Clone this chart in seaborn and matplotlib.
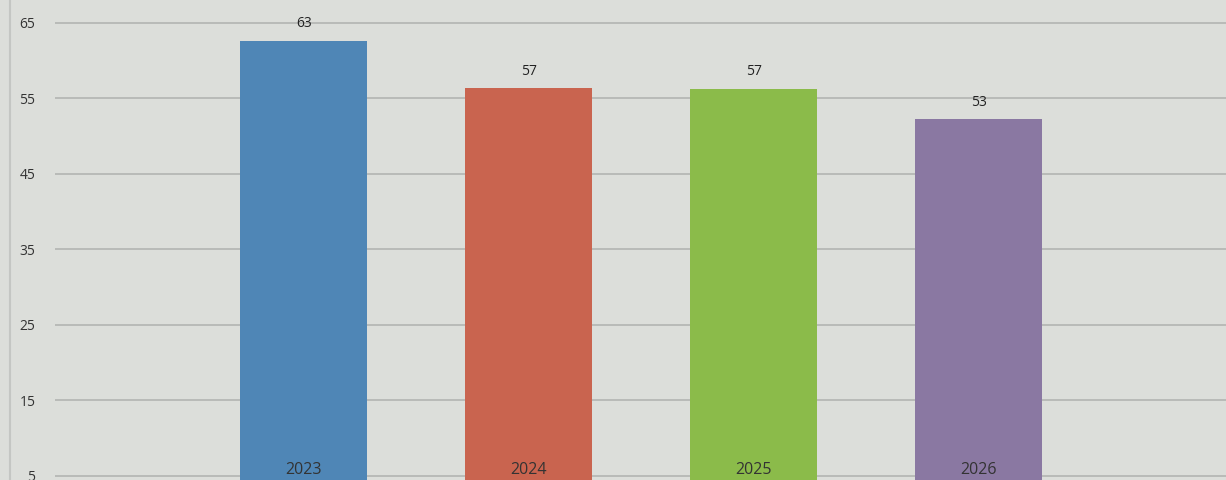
import numpy as np
import pandas as pd
import matplotlib
matplotlib.use("Agg")
import matplotlib.pyplot as plt
import seaborn as sns
from matplotlib.lines import Line2D

# data
years = ["2023", "2024", "2025", "2026"]
values = [62.6, 56.3, 56.2, 52.2]
labels = ["63", "57", "57", "53"]
colors = ["#4f86b6", "#c9644f", "#8bbb4a", "#8a78a2"]
yticks = [5, 15, 25, 35, 45, 55, 65]

df = pd.DataFrame({"year": years, "value": values})

sns.set_theme(style="white")
plt.rcParams["font.family"] = ["Open Sans", "DejaVu Sans"]

bg = "#dcdeda"
fig = plt.figure(figsize=(12.26, 4.8), dpi=100, facecolor=bg)
ax = fig.add_axes([55 / 1226, 0, 1 - 55 / 1226, 1])
ax.set_facecolor(bg)

sns.barplot(data=df, x="year", y="value", hue="year", palette=colors,
            legend=False, width=0.565, ax=ax, saturation=1, linewidth=0)

ax.set_xlim(-1.107, 4.1)
ax.set_ylim(4.45, 68.0)
ax.set_yticks(yticks)
ax.set_yticklabels([str(t) for t in yticks], fontsize=10, color="#333333")
ax.tick_params(axis="y", length=0, pad=14)
ax.set_xticks([])
ax.set_xlabel("")
ax.set_ylabel("")
ax.yaxis.grid(True, color="#b3b5b2", linewidth=1.2)
ax.set_axisbelow(True)
for s in ax.spines.values():
    s.set_visible(False)

# value labels above bars
for cont, lab in zip(ax.containers, labels):
    ax.bar_label(cont, labels=[lab], padding=7, fontsize=10, color="#222222")

# year labels at bottom inside the bars
for i, y in enumerate(years):
    ax.text(i, 4.75, y, ha="center", va="bottom", fontsize=11.5, color="#333333")

# left border of the scanned page
fig.add_artist(Line2D([10 / 1226, 10 / 1226], [0, 1], color="#c4c6c3",
                      linewidth=1.5, transform=fig.transFigure))

fig.savefig("out.png", dpi=100, facecolor=bg)
